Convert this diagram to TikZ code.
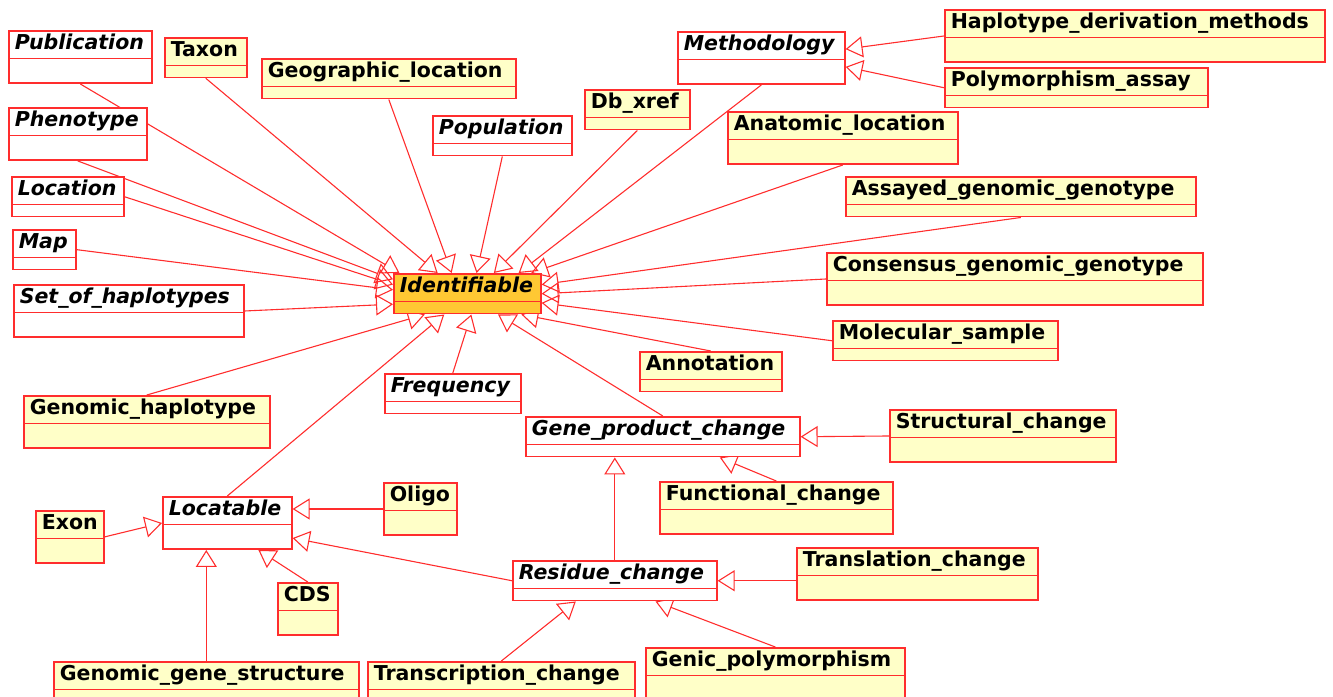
\documentclass[tikz,border=0pt]{standalone}
\usepackage{fontspec}
\setmainfont{DejaVu Sans}
\usetikzlibrary{shapes.multipart,arrows.meta,backgrounds}
\definecolor{umlred}{RGB}{255,45,45}
\definecolor{umlyellow}{RGB}{255,255,200}
\definecolor{umlorange}{RGB}{255,200,51}

\begin{document}
\begin{tikzpicture}[x=1pt,y=-1pt,
  cls/.style={rectangle split, rectangle split parts=2, draw=umlred, color=umlred, text=black,
    line width=1.6pt, fill=umlyellow, anchor=north west, inner xsep=6pt, inner ysep=2pt, align=left,
    font=\fontsize{20.5}{22}\selectfont\bfseries,
    rectangle split empty part height=6.5pt, rectangle split empty part depth=0pt},
  tall/.style={rectangle split empty part height=19pt},
  abstr/.style={fill=white, font=\fontsize{20.5}{22}\selectfont\bfseries\itshape},
  gen/.style={draw=umlred, line width=1.1pt, -{Triangle[open,length=17pt,width=21pt]}}]
\useasboundingbox (0,0) rectangle (1333,696);

\node[cls,abstr,tall,text width=131pt] (pub)   at (8,30)   {\strut Publication};
\node[cls,text width=70pt]             (taxon) at (164,37) {\strut Taxon};
\node[cls,text width=242pt]            (geo)   at (261,58) {\strut Geographic\_location};
\node[cls,abstr,tall,text width=126pt] (pheno) at (8,107)  {\strut Phenotype};
\node[cls,abstr,text width=100pt]      (location) at (11,176) {\strut Location};
\node[cls,abstr,text width=51pt]       (map)   at (12,229) {\strut Map};
\node[cls,abstr,tall,text width=218pt] (soh)   at (13,284) {\strut Set\_of\_haplotypes};
\node[cls,abstr,text width=127pt]      (pop)   at (432,115) {\strut Population};
\node[cls,text width=93pt]             (dbx)   at (584,89) {\strut Db\_xref};
\node[cls,abstr,tall,text width=155pt] (meth)  at (677,31) {\strut Methodology};
\node[cls,tall,text width=368pt]       (hdm)   at (944,9)  {\strut Haplotype\_derivation\_methods};
\node[cls,text width=251pt]            (pa)    at (944,67) {\strut Polymorphism\_assay};
\node[cls,tall,text width=218pt]       (anat)  at (727,111) {\strut Anatomic\_location};
\node[cls,text width=338pt]            (agg)   at (845,176) {\strut Assayed\_genomic\_genotype};
\node[cls,tall,text width=364pt]       (cgg)   at (826,252) {\strut Consensus\_genomic\_genotype};
\node[cls,text width=213pt]            (ms)    at (832,320) {\strut Molecular\_sample};
\node[cls,text width=130pt]            (annot) at (639,351) {\strut Annotation};
\node[cls,abstr,fill=umlorange,text width=135pt] (ident) at (393,273) {\strut Identifiable};
\node[cls,abstr,text width=124pt]      (freq)  at (384,373) {\strut Frequency};
\node[cls,tall,text width=234pt]       (gh)    at (23,395) {\strut Genomic\_haplotype};

\node[cls,abstr,text width=262pt]      (gpc)   at (525,416) {\strut Gene\_product\_change};
\node[cls,tall,text width=214pt]       (sc)    at (889,409) {\strut Structural\_change};
\node[cls,tall,text width=221pt]       (fc)    at (659,481) {\strut Functional\_change};
\node[cls,abstr,text width=192pt]      (rc)    at (512,560) {\strut Residue\_change};
\node[cls,tall,text width=229pt]       (tc)    at (796,547) {\strut Translation\_change};
\node[cls,tall,text width=255pt]       (tsc)   at (367,661) {\strut Transcription\_change};
\node[cls,tall,text width=247pt]       (gp)    at (645,647) {\strut Genic\_polymorphism};

\node[cls,abstr,tall,text width=117pt] (locatable) at (162,496) {\strut Locatable};
\node[cls,tall,text width=56pt]        (exon)  at (35,510) {\strut Exon};
\node[cls,tall,text width=61pt]        (oligo) at (383,482) {\strut Oligo};
\node[cls,tall,text width=48pt]        (cds)   at (277,582) {\strut CDS};
\node[cls,tall,text width=293pt]       (ggs)   at (53,661) {\strut Genomic\_gene\_structure};

\begin{scope}[on background layer]
% everything is an Identifiable
\draw[gen] (pub.south) -- (ident.163.6);
\draw[gen] (pheno.south) -- (ident.169);
\draw[gen] (location.east) -- (ident.173);
\draw[gen] (map.east) -- (ident.177);
\draw[gen] (soh.east) -- (ident.188);
\draw[gen] (taxon.south) -- (ident.145.6);
\draw[gen] (geo.south) -- (ident.127.7);
\draw[gen] (pop.south) -- (ident.66);
\draw[gen] (dbx.south) -- (ident.38);
\draw[gen] (meth.south) -- (ident.22.7);
\draw[gen] (anat.south) -- (ident.18.9);
\draw[gen] (agg.south) -- (ident.7);
\draw[gen] (cgg.west) -- (ident.0);
\draw[gen] (ms.west) -- (ident.-7);
\draw[gen] (annot.north) -- (ident.-21.4);
\draw[gen] (freq.north) -- (ident.-79.6);
\draw[gen] (gpc.north) -- (ident.-34.6);
\draw[gen] (locatable.north) -- (ident.-138.5);
\draw[gen] (gh.north) -- (ident.-154.9);

\draw[gen] (hdm.west) -- (meth.6.2);
\draw[gen] (pa.west) -- (meth.-6.2);

\draw[gen] (sc.west) -- (gpc.east);
\draw[gen] (fc.north) -- (gpc.-20.2);
\draw[gen] (rc.north) -- (rc.north |- gpc.south);
\draw[gen] (tc.west |- rc.east) -- (rc.east);
\draw[gen] (tsc.north) -- (rc.-152.2);
\draw[gen] (gp.north) -- (rc.-27.8);

\draw[gen] (exon.east) -- (locatable.west);
\draw[gen] (oligo.west) -- (locatable.east |- oligo.west);
\draw[gen] (rc.west) -- (locatable.-13.1);
\draw[gen] (cds.north) -- (locatable.-41.8);
\draw[gen] (ggs.north) -- (ggs.north |- locatable.south);
\end{scope}
\end{tikzpicture}
\end{document}
